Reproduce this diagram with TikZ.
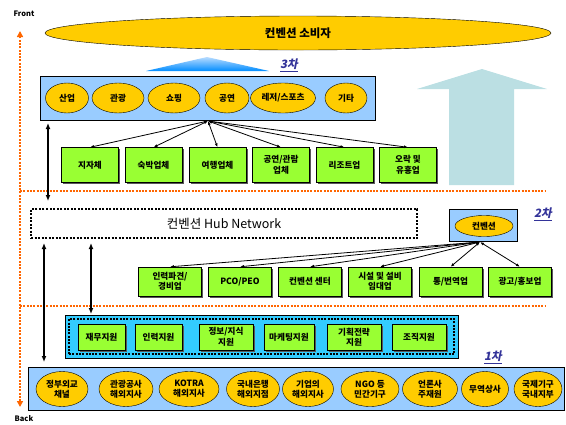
\documentclass[tikz,border=0pt]{standalone}
\usepackage{fontspec}
\setmainfont{Noto Sans CJK KR}
\newfontfamily\tierfont[FakeSlant=0.2]{Noto Sans CJK KR}
\usetikzlibrary{arrows.meta,shapes.geometric,shadows}
\definecolor{gold}{HTML}{FFCC00}
\definecolor{limegreen}{HTML}{99FF33}
\definecolor{sky}{HTML}{99CCFF}
\definecolor{cyanbox}{HTML}{33CCFF}
\definecolor{tierblue}{HTML}{333399}
\definecolor{guideorange}{HTML}{FF6600}
\definecolor{bigarrow}{HTML}{BBDFE3}

\begin{document}
\begin{tikzpicture}[x=1pt, y=-1pt,
  disk/.style={ellipse, draw, fill=gold, inner sep=0pt, align=center, font=\bfseries\fontsize{8.6}{10}\selectfont},
  firm/.style={draw, fill=limegreen, inner sep=0pt, align=center, font=\bfseries\fontsize{8.6}{10.5}\selectfont, drop shadow={shadow xshift=1.5pt, shadow yshift=-1.5pt, fill=black!65, opacity=1}},
  panel/.style={draw, fill=sky, inner sep=0pt},
  link/.style={{Latex[length=4pt,width=3pt]}-{Latex[length=4pt,width=3pt]}, line width=0.8pt},
  bigtip/.style={{Latex[length=6pt,width=5pt]}-{Latex[length=6pt,width=5pt]}, line width=2pt},
  tier/.style={text=tierblue, font=\tierfont\bfseries\fontsize{11.5}{13}\selectfont},
  guide/.style={draw=guideorange, line width=2.5pt, dash pattern=on 2pt off 1.3pt}]
  \useasboundingbox (0,0) rectangle (566,424);

  \fill[bigarrow] (449,185) -- (449,89) -- (417,89) -- (482,69) -- (547,89) -- (514,89) -- (514,185) -- cycle;
  \shade[top color=sky!70!white, bottom color=blue!45!cyan] (146,71) -- (207,57) -- (269,71) -- cycle;

  \node[font=\bfseries\fontsize{7.5}{8}\selectfont] (front) at (24,14) {Front};
  \node[font=\bfseries\fontsize{7.5}{8}\selectfont] (back) at (24,419) {Back};
  \coordinate (fronttip) at (20,31);
  \coordinate (backtip) at (20,407);
  \draw[guide, {Triangle[length=6pt,width=6pt]}-{Triangle[length=6pt,width=6pt]}] (backtip) -- (fronttip);
  \coordinate (line1a) at (20,191);
  \coordinate (line1b) at (545,191);
  \coordinate (line2a) at (20,306);
  \coordinate (line2b) at (545,306);
  \draw[guide] (line1a) -- (line1b);
  \draw[guide] (line2a) -- (line2b);

  \node[ellipse, draw, fill=gold, minimum width=506pt, minimum height=34pt, font=\bfseries\fontsize{11.5}{13}\selectfont] (consumer) at (298,33) {컨벤션 소비자};
  \node[tier] (lab3) at (289,65) {\underline{3차}};

  \node[panel, minimum width=335pt, minimum height=44pt, drop shadow={shadow xshift=1pt, shadow yshift=-1pt, fill=black!50, opacity=1}] (tier3) at (207.5,98) {};
  \node[disk, minimum width=43pt, minimum height=30pt] (sanup) at (67,98) {산업};
  \node[disk, minimum width=52pt, minimum height=30pt] (gwangwang) at (118,98) {관광};
  \node[disk, minimum width=52pt, minimum height=30pt] (shopping) at (174,98) {쇼핑};
  \node[disk, minimum width=44pt, minimum height=30pt] (gongyeon) at (227,98) {공연};
  \node[disk, minimum width=65pt, minimum height=30pt] (leisure) at (283,98) {레저/스포츠};
  \node[disk, minimum width=42pt, minimum height=30pt] (gita) at (346,98) {기타};

  \node[firm, minimum width=57pt, minimum height=35pt] (jija) at (90,165) {지자체};
  \node[firm, minimum width=57pt, minimum height=35pt] (sukbak) at (153.5,165) {숙박업체};
  \node[firm, minimum width=57pt, minimum height=35pt] (yeohaeng) at (217.5,165) {여행업체};
  \node[firm, minimum width=57pt, minimum height=35pt] (gwanram) at (281,165) {공연/관람\\업체};
  \node[firm, minimum width=57pt, minimum height=35pt] (resort) at (344.5,165) {리조트업};
  \node[firm, minimum width=57pt, minimum height=35pt] (orak) at (408,165) {오락 및\\유흥업};

  \coordinate (hub3) at (208,121);
  \draw[link] (hub3) -- (jija.north);
  \draw[link] (hub3) -- (sukbak.north);
  \draw[link] (hub3) -- (yeohaeng.north);
  \draw[link] (hub3) -- (gwanram.north);
  \draw[link] (hub3) -- (resort.north);
  \draw[link] (hub3) -- (orak.north);

  \node[draw, line width=1.8pt, dash pattern=on 2pt off 1.5pt, fill=white, minimum width=386pt, minimum height=29pt, font=\fontsize{12.5}{14}\selectfont] (hubnet) at (224,223.5) {컨벤션 Hub Network};
  \coordinate (top3) at (48,123);
  \coordinate (hubtop) at (48,201);
  \draw[bigtip] (top3) -- (hubtop);

  \node[panel, minimum width=68pt, minimum height=32pt] (tier2) at (483,225) {};
  \node[disk, minimum width=58pt, minimum height=21pt] (convention) at (484,226) {컨벤션};
  \node[tier] (lab2) at (543,214) {\underline{2차}};

  \node[firm, minimum width=63pt, minimum height=29pt] (staffing) at (170,281.5) {인력파견/\\경비업};
  \node[firm, minimum width=63pt, minimum height=29pt] (pco) at (240,281.5) {PCO/PEO};
  \node[firm, minimum width=63pt, minimum height=29pt] (center) at (310,281.5) {컨벤션 센터};
  \node[firm, minimum width=63pt, minimum height=29pt] (rental) at (380,281.5) {시설 및 설비\\임대업};
  \node[firm, minimum width=63pt, minimum height=29pt] (translate) at (450.5,281.5) {통/번역업};
  \node[firm, minimum width=63pt, minimum height=29pt] (advert) at (520,281.5) {광고/홍보업};

  \coordinate (hub2) at (480,242);
  \draw[link] (hub2) -- (staffing.north);
  \draw[link] (hub2) -- (pco.north);
  \draw[link] (hub2) -- (center.north);
  \draw[link] (hub2) -- (rental.north);
  \draw[link] (hub2) -- (translate.north);
  \draw[link] (hub2) -- (advert.north);

  \node[draw, fill=cyanbox, inner sep=0pt, minimum width=393pt, minimum height=43pt, drop shadow={shadow xshift=1pt, shadow yshift=-1pt, fill=black!50, opacity=1}] (support) at (261.5,336.5) {};
  \node[draw, line width=1.5pt, dash pattern=on 2pt off 1.3pt, inner sep=0pt, minimum width=385pt, minimum height=35pt] (supportin) at (261.5,336.5) {};
  \node[firm, minimum width=47pt, minimum height=26pt] (finance) at (101.5,337) {재무지원};
  \node[firm, minimum width=47pt, minimum height=26pt] (hr) at (158.5,337) {인력지원};
  \node[firm, minimum width=54pt, minimum height=26pt] (info) at (226,337) {정보/지식\\지원};
  \node[firm, minimum width=50pt, minimum height=26pt] (marketing) at (289,337) {마케팅지원};
  \node[firm, minimum width=54pt, minimum height=26pt] (strategy) at (354,337) {기획전략\\지원};
  \node[firm, minimum width=54pt, minimum height=26pt] (org) at (419,337) {조직지원};

  \coordinate (hubleft) at (44,243);
  \coordinate (tier1top) at (44,362);
  \coordinate (hubmid) at (91,243);
  \coordinate (supporttop) at (91,314);
  \draw[bigtip] (hubleft) -- (tier1top);
  \draw[bigtip] (hubmid) -- (supporttop);

  \node[tier] (lab1) at (493,357) {\underline{1차}};
  \node[panel, minimum width=536pt, minimum height=43pt] (tier1) at (296,388.5) {};
  \node[disk, minimum width=52pt, minimum height=35pt] (gov) at (62,389) {정부외교\\채널};
  \node[disk, minimum width=54pt, minimum height=35pt] (kto) at (126,389) {관광공사\\해외지사};
  \node[disk, minimum width=60pt, minimum height=35pt] (kotra) at (189,389) {KOTRA\\해외지사};
  \node[disk, minimum width=53pt, minimum height=35pt] (bank) at (253,389) {국내은행\\해외지점};
  \node[disk, minimum width=51pt, minimum height=35pt] (firmabroad) at (308,389) {기업의\\해외지사};
  \node[disk, minimum width=58pt, minimum height=35pt] (ngo) at (370,389) {NGO 등\\민간기구};
  \node[disk, minimum width=55pt, minimum height=35pt] (press) at (430,389) {언론사\\주재원};
  \node[disk, minimum width=47pt, minimum height=35pt] (trade) at (485,389) {무역상사};
  \node[disk, minimum width=48pt, minimum height=35pt] (intl) at (538,389) {국제기구\\국내지부};
\end{tikzpicture}
\end{document}
